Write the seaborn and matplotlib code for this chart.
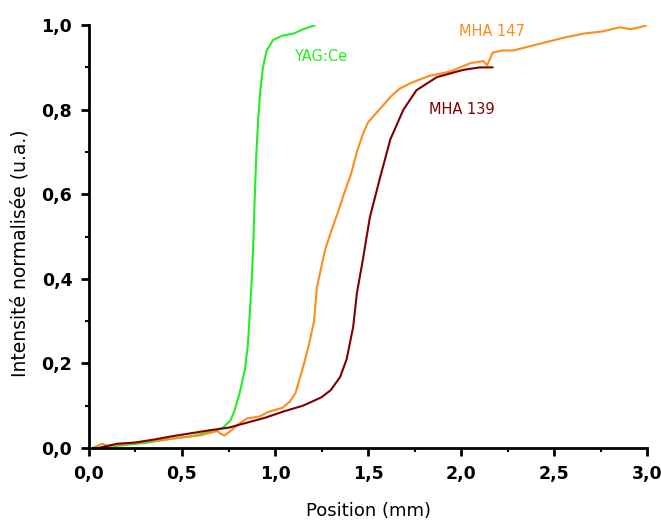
import numpy as np
import pandas as pd
import matplotlib
matplotlib.use("Agg")
import matplotlib.pyplot as plt
from matplotlib.ticker import FuncFormatter, MultipleLocator
from matplotlib.transforms import ScaledTranslation
import seaborn as sns

# YAG:Ce
yag_x = [0.05, 0.15, 0.30, 0.45, 0.55, 0.65, 0.72, 0.76, 0.78, 0.81, 0.84, 0.855, 0.866,
         0.875, 0.883, 0.89, 0.90, 0.91, 0.92, 0.935, 0.955, 0.99, 1.04, 1.10, 1.15, 1.215]
yag_y = [0.0, 0.005, 0.012, 0.022, 0.028, 0.038, 0.048, 0.065, 0.085, 0.13, 0.19, 0.25, 0.33,
         0.40, 0.48, 0.58, 0.70, 0.78, 0.84, 0.90, 0.94, 0.965, 0.975, 0.98, 0.99, 1.0]

# MHA 147
m147_x = [0.02, 0.07, 0.10, 0.20, 0.30, 0.40, 0.50, 0.60, 0.66, 0.69, 0.71, 0.73, 0.76, 0.80,
          0.85, 0.88, 0.92, 0.96, 1.00, 1.04, 1.08, 1.11, 1.15, 1.18, 1.21, 1.225, 1.245, 1.27,
          1.30, 1.34, 1.37, 1.41, 1.44, 1.47, 1.50, 1.56, 1.62, 1.67, 1.74, 1.83, 1.94, 2.05,
          2.12, 2.14, 2.17, 2.22, 2.28, 2.37, 2.46, 2.55, 2.66, 2.76, 2.855, 2.91, 2.96, 3.0]
m147_y = [0.0, 0.01, 0.005, 0.01, 0.015, 0.02, 0.025, 0.03, 0.037, 0.04, 0.033, 0.03, 0.04, 0.055,
          0.07, 0.072, 0.075, 0.085, 0.09, 0.095, 0.11, 0.13, 0.19, 0.24, 0.30, 0.38, 0.42, 0.47,
          0.51, 0.56, 0.60, 0.65, 0.70, 0.74, 0.77, 0.80, 0.83, 0.85, 0.865, 0.88, 0.89, 0.91,
          0.915, 0.905, 0.935, 0.94, 0.94, 0.95, 0.96, 0.97, 0.98, 0.985, 0.995, 0.99, 0.995, 1.0]

# MHA 139
m139_x = [0.05, 0.10, 0.15, 0.25, 0.35, 0.45, 0.55, 0.65, 0.75, 0.85, 0.95, 1.05, 1.15, 1.25,
          1.30, 1.35, 1.385, 1.42, 1.44, 1.47, 1.51, 1.565, 1.62, 1.69, 1.76, 1.87, 2.01, 2.10, 2.17]
m139_y = [0.0, 0.005, 0.01, 0.013, 0.02, 0.028, 0.035, 0.042, 0.048, 0.06, 0.072, 0.087, 0.10, 0.12,
          0.137, 0.168, 0.21, 0.286, 0.366, 0.44, 0.546, 0.64, 0.73, 0.80, 0.846, 0.877, 0.894, 0.90, 0.90]

names = ["YAG:Ce", "MHA 147", "MHA 139"]
colors = ["#22ee22", "#ff8c1a", "#800000"]

df = pd.concat([
    pd.DataFrame({"x": yag_x, "y": yag_y, "s": names[0]}),
    pd.DataFrame({"x": m147_x, "y": m147_y, "s": names[1]}),
    pd.DataFrame({"x": m139_x, "y": m139_y, "s": names[2]}),
])

sns.set_style("ticks")
plt.rcParams["font.family"] = ["DejaVu Sans"]

fig = plt.figure(figsize=(6.61, 5.23), dpi=100)
ax = fig.add_axes([0.1346, 0.1434, 0.979 - 0.1346, 0.952 - 0.1434])

sns.lineplot(data=df, x="x", y="y", hue="s", palette=dict(zip(names, colors)),
             sort=False, estimator=None, linewidth=1.5, legend=False, ax=ax)

ax.set_xlim(0, 3.0)
ax.set_ylim(0, 1.0)
ax.xaxis.set_major_locator(MultipleLocator(0.5))
ax.xaxis.set_minor_locator(MultipleLocator(0.25))
ax.yaxis.set_major_locator(MultipleLocator(0.2))
ax.yaxis.set_minor_locator(MultipleLocator(0.1))
fmt = FuncFormatter(lambda v, p: f"{v:.1f}".replace(".", ","))
ax.xaxis.set_major_formatter(fmt)
ax.yaxis.set_major_formatter(fmt)

for s in ["top", "right"]:
    ax.spines[s].set_visible(False)
for s in ["left", "bottom"]:
    ax.spines[s].set_linewidth(2)
    ax.spines[s].set_color("black")
ax.tick_params(which="major", length=6, width=2, labelsize=12.5, pad=6,
               color="black", labelcolor="black")
ax.tick_params(which="minor", length=3, width=1.5, color="black")
for lab in ax.get_xticklabels() + ax.get_yticklabels():
    lab.set_fontweight("bold")
# keep "3,0" inside the figure
last = ax.get_xticklabels()[-1]
last.set_transform(last.get_transform() + ScaledTranslation(-4 / 72, 0, fig.dpi_scale_trans))

ax.set_xlabel("Position (mm)", fontsize=13, color="black")
ax.set_ylabel("Intensité normalisée (u.a.)", fontsize=13.5, color="black")
ax.xaxis.set_label_coords(0.5, -0.128)
ax.yaxis.set_label_coords(-0.106, 0.46)

ax.text(1.10, 0.925, "YAG:Ce", color=colors[0], fontsize=10.5, va="center")
ax.text(1.99, 0.985, "MHA 147", color=colors[1], fontsize=10.5, va="center")
ax.text(1.83, 0.80, "MHA 139", color=colors[2], fontsize=10.5, va="center")

fig.savefig("out.png", dpi=100)
